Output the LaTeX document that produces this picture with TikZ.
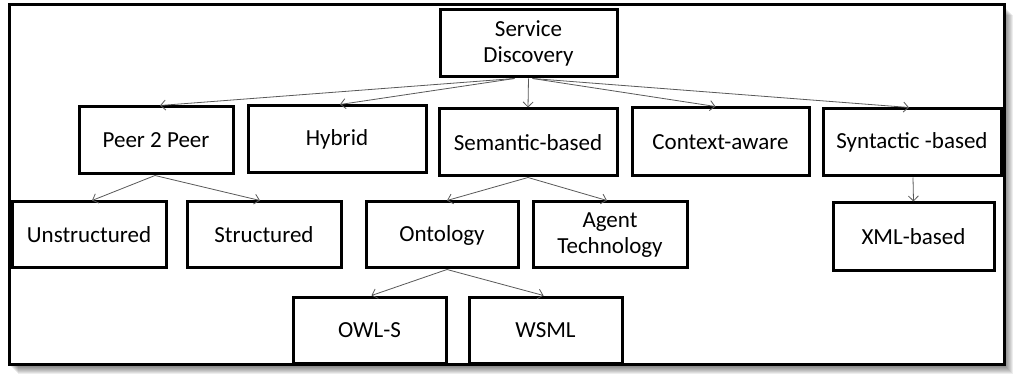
\documentclass[tikz,border=0pt]{standalone}
\usepackage{fontspec}
\setmainfont{Carlito}
\usetikzlibrary{arrows.meta}
\begin{document}
\begin{tikzpicture}[x=1pt,y=-1pt,
  box/.style={draw=black, line width=3pt, fill=white, align=center,
    font=\fontsize{23}{28}\selectfont, inner sep=0pt},
  link/.style={draw=black!65, line width=0.8pt, -{Straight Barb[length=5pt,width=10pt]}}]
  \useasboundingbox (0,0) rectangle (1015,390);
  % soft shadow of the frame
  \foreach \k in {1,...,9}
    \fill[black, opacity=0.07] (9+\k,5+\k+1) rectangle (1004+\k,364+\k+1);
  \fill[white] (9,5) rectangle (1004,364);
  \draw[line width=3pt] (9,5) rectangle (1004,364);

  % root
  \node[box, minimum width=177pt, minimum height=67pt] (sd) at (528.5,43.5) {Service\\[-2pt]Discovery};
  % first level
  \node[box, minimum width=154pt, minimum height=67pt] (p2p) at (156,140.5) {Peer 2 Peer};
  \node[box, minimum width=178pt, minimum height=67pt] (hyb) at (337,139.5) {Hybrid};
  \node[box, minimum width=178pt, minimum height=67pt] (sem) at (528,142.5) {Semantic-based};
  \node[box, minimum width=177pt, minimum height=68pt] (ctx) at (720.5,142) {Context-aware};
  \node[box, minimum width=178pt, minimum height=67pt] (syn) at (912,142.5) {Syntactic -based};
  % second level
  \node[box, minimum width=154pt, minimum height=66pt] (uns) at (89,235) {Unstructured};
  \node[box, minimum width=154pt, minimum height=66pt] (str) at (264,235) {Structured};
  \node[box, minimum width=152pt, minimum height=66pt] (ont) at (442,235) {Ontology};
  \node[box, minimum width=154pt, minimum height=66pt] (agt) at (610,235) {Agent\\[-2pt]Technology};
  \node[box, minimum width=161pt, minimum height=68pt] (xml) at (913.5,237) {XML-based};
  % third level
  \node[box, minimum width=153pt, minimum height=66pt] (owl) at (369.5,330) {OWL-S};
  \node[box, minimum width=153pt, minimum height=66pt] (wsml) at (545.5,330) {WSML};

  % connectors
  \draw[link] ([xshift=-14pt]sd.south) -- ([xshift=4pt]p2p.north);
  \draw[link] ([xshift=-14pt]sd.south) -- ([xshift=3pt]hyb.north);
  \draw[link] (sd.south) -- (sem.north);
  \draw[link] ([xshift=4pt]sd.south) -- ([xshift=-5pt]ctx.north);
  \draw[link] ([xshift=4pt]sd.south) -- ([xshift=-3pt]syn.north);
  \draw[link] ([xshift=-1pt]p2p.south) -- ([xshift=3pt]uns.north);
  \draw[link] ([xshift=-1pt]p2p.south) -- ([xshift=-4pt]str.north);
  \draw[link] (sem.south) -- ([xshift=5pt]ont.north);
  \draw[link] (sem.south) -- ([xshift=-3pt]agt.north);
  \draw[link] ([xshift=5pt]ont.south) -- ([xshift=2pt]owl.north);
  \draw[link] ([xshift=5pt]ont.south) -- ([xshift=-2pt]wsml.north);
  \draw[link] ([xshift=1pt]syn.south) -- (xml.north);
\end{tikzpicture}
\end{document}
